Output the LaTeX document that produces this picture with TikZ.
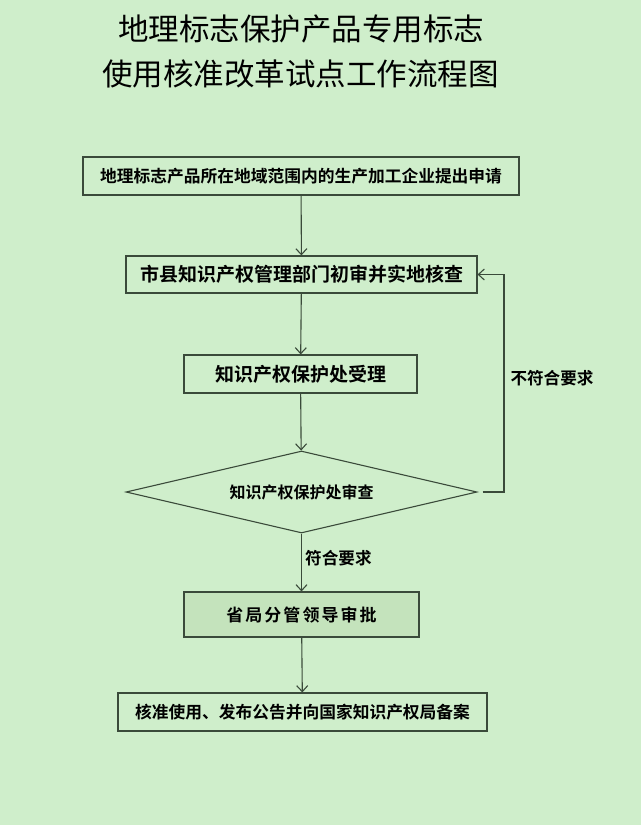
\documentclass[tikz,border=0pt]{standalone}
\usepackage{fontspec}
\newfontfamily\cjk{Noto Sans CJK SC}
\newfontfamily\cjkb{Noto Sans CJK SC Bold}
\newfontfamily\cjkbs[LetterSpace=12]{Noto Sans CJK SC Bold}
\usetikzlibrary{shapes.geometric,arrows.meta}
\definecolor{bg}{HTML}{CFEECB}
\definecolor{bx}{HTML}{C4E3BC}
\definecolor{ln}{HTML}{3A4A3A}
\begin{document}
\begin{tikzpicture}[x=1pt,y=-1pt,
  stepbox/.style={draw=ln,line width=1.1pt,rectangle,inner sep=0pt,anchor=center,font=\cjkb},
  conn/.style={draw=ln,line width=1.1pt,-{Straight Barb[length=6pt,width=11pt,line width=1.1pt]}},
  lbl/.style={font=\cjkb\fontsize{16.6}{18}\selectfont,inner sep=0pt}]
\path[fill=bg] (0,0) rectangle (641,825);
\node[font=\cjk\fontsize{30.5}{36}\selectfont,inner sep=0pt] (t1) at (301,29) {地理标志保护产品专用标志};
\node[font=\cjk\fontsize{30.5}{36}\selectfont,inner sep=0pt] (t2) at (300.5,74) {使用核准改革试点工作流程图};
\node[stepbox,minimum width=436pt,minimum height=38pt] (b1) at (301,176)
  {\fontsize{16.75}{18}\selectfont 地理标志产品所在地域范围内的生产加工企业提出申请};
\node[stepbox,minimum width=351pt,minimum height=37pt] (b2) at (301.5,274.5)
  {\fontsize{19}{20}\selectfont 市县知识产权管理部门初审并实地核查};
\node[stepbox,minimum width=233pt,minimum height=38pt] (b3) at (300.5,374)
  {\fontsize{19}{20}\selectfont 知识产权保护处受理};
\node[draw=ln,line width=1.1pt,diamond,aspect=4.28,inner sep=0pt,minimum width=351pt,minimum height=82pt,font=\cjkb] (d) at (301.5,492)
  {\fontsize{16}{18}\selectfont 知识产权保护处审查};
\node[stepbox,fill=bx,minimum width=235pt,minimum height=45pt,font=\cjkbs] (b5) at (301.5,614.5)
  {\fontsize{17}{18}\selectfont 省局分管领导审批};
\node[stepbox,minimum width=369pt,minimum height=38pt] (b6) at (302.5,712)
  {\fontsize{16.75}{18}\selectfont 核准使用、发布公告并向国家知识产权局备案};
\draw[conn] (b1) -- (b2);
\draw[conn] (b2) -- (b3);
\draw[conn] (b3) -- (d);
\draw[conn] (d) -- (b5);
\draw[conn] (b5) -- (b6);
\coordinate (r) at (504,492);
\draw[conn,shorten <=5pt] (d.east) -- (r) |- (b2.east);
\node[lbl] (no) at (552,378) {不符合要求};
\node[lbl,anchor=west] (yes) at (305,558) {符合要求};
\end{tikzpicture}
\end{document}
